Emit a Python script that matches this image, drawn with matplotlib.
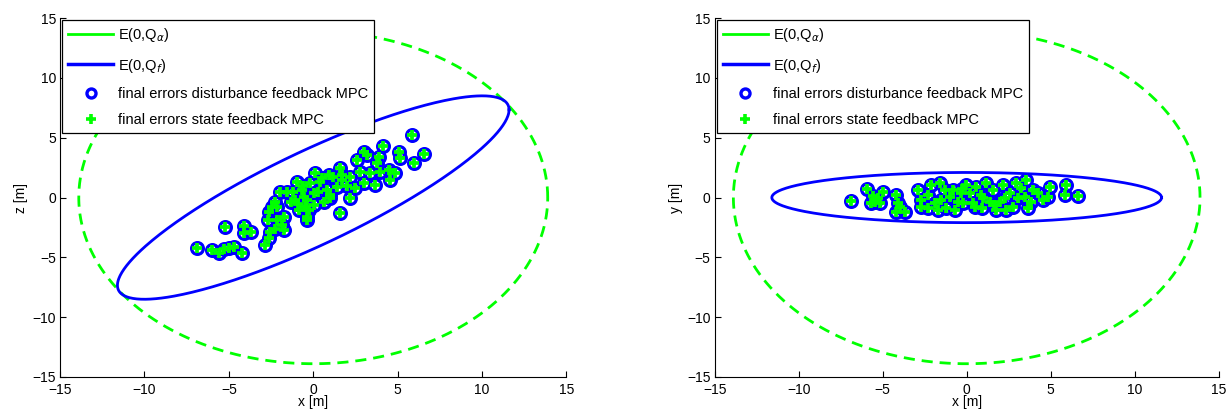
import numpy as np
import matplotlib
matplotlib.use("Agg")
import matplotlib.pyplot as plt
from matplotlib.lines import Line2D

plt.rcParams['font.family'] = ['Liberation Sans', 'DejaVu Sans']
plt.rcParams['font.size'] = 10
plt.rcParams['axes.unicode_minus'] = True

# final errors, x-z plane (left panel)
xz_x = [-6.9, -6.0, -5.6, -5.3, -5.0, -4.7, -4.2, -5.2, -4.1, -3.7, -4.1,
        -2.85, -2.65, -2.55, -2.7, -2.6, -2.45, -2.25, -2.15, -2.15, -2.25, -1.76, -1.72, -1.86,
        -1.96, -1.56, -0.97, -1.07, -1.17, -0.67, -0.47, -0.37, -0.87, -0.57,
        5.85, 6.58, 5.95, 5.06, 5.12, 4.13, 3.02, 3.18, 2.59, 3.87, 3.77,
        1.6, 0.91, 0.12, 0.52, 3.68, 4.47, 4.86, 4.57, 3.97, 3.38, 2.79, 2.19,
        1.7, 1.2, 1.4, 0.81, 0.42, -0.18, 2.15, 1.6, 0.02, -0.37, 0.61, -0.28,
        -0.37, 0.02, 1.0, 2.5, 3.0, 2.0, 1.0, -0.6, -1.3, 0.3, 1.7, -0.9]
xz_z = [-4.2, -4.4, -4.6, -4.3, -4.2, -4.1, -4.6, -2.5, -2.4, -2.9, -3.0,
        -4.0, -3.4, -2.9, -1.9, -1.2, -0.8, -0.35, -0.8, -1.9, -2.6, -1.6, -2.7, -2.3,
        0.48, 0.48, 1.32, -0.21, 0.48, 0.63, -0.77, -1.6, -1.05, 0.07,
        5.22, 3.63, 2.86, 3.83, 3.27, 4.3, 3.83, 3.55, 3.13, 3.41, 2.86,
        2.44, 1.88, 2.02, 1.6, 1.04, 2.3, 2.02, 1.46, 2.16, 2.02, 2.16, 1.74,
        1.46, 1.74, 0.9, 0.63, 1.32, 1.18, -0.07, -1.3, 0.35, -0.21, -0.35, -1.05,
        -1.88, -0.63, 0.21, 0.8, 1.2, 1.0, 0.0, 1.0, -0.4, 0.5, 1.9, -0.5]

# final errors, x-y plane (right panel)
xy_x = [-6.86, -5.93, -5.58, -5.67, -5.28, -4.98, -5.18, -5.48,
        -4.19, -4.09, -4.19, -3.69, -3.99,
        -2.9, -2.7, -2.3, -2.1, -1.91, -1.61, -1.31, -1.51, -1.01, -1.71, -1.21, -2.7, -2.3,
        -0.82, -0.52, -0.72, -0.32,
        6.62, 5.93, 5.83, 4.94, 4.84, 4.54, 4.24, 3.95, 3.85, 3.65,
        3.55, 3.26, 3.06, 2.76, 2.56, 2.16, 1.96, 1.77, 2.36, 1.56, 1.37, 1.17,
        0.87, 0.58, 0.38, 0.18, -0.02, -0.22, 2.96, 3.45,
        0.5, 1.0, -0.3, 0.9, 2.3, 1.6]
xy_y = [-0.27, 0.71, 0.12, -0.49, -0.07, 0.48, -0.49, -0.35,
        0.21, -0.49, -1.19, -1.19, -0.77,
        0.63, -0.21, 0.21, 1.04, -0.49, 1.18, 0.63, -0.21, 0.07, -1.05, -0.91, -0.77, -0.91,
        0.63, -0.35, -1.05, 0.35,
        0.12, 1.04, 0.21, 0.9, 0.07, -0.21, 0.35, 0.63, -0.35, -0.91,
        1.46, 0.77, -0.07, -0.77, 0.35, 1.04, -0.35, -1.05, -1.05, 0.63, -0.35, 1.18,
        0.21, 0.9, -0.49, 0.35, 1.04, -0.49, 1.18, 0.07,
        -0.8, 0.0, 0.7, -0.9, 0.0, -0.6]

# ellipse shape matrices (ellipse = {v : v' inv(Q) v <= 1})
Q_alpha = np.array([[193.0, 0.0], [0.0, 193.0]])
Q_f_xz = np.array([[134.6, 85.1], [85.1, 72.3]])
Q_f_xy = np.array([[134.6, 0.0], [0.0, 4.4]])

blue = (0, 0, 1)
green = (0, 1, 0)


def ellipse(Q, n=400):
    t = np.linspace(0, 2 * np.pi, n)
    L = np.linalg.cholesky(Q)
    pts = L @ np.vstack([np.cos(t), np.sin(t)])
    return pts[0], pts[1]


fig = plt.figure(figsize=(12.26, 4.12), dpi=100)
ax1 = fig.add_axes([0.049, 0.085, 0.413, 0.871])
ax2 = fig.add_axes([0.583, 0.085, 0.411, 0.871])

panels = [(ax1, Q_f_xz, xz_x, xz_z, 'z [m]'), (ax2, Q_f_xy, xy_x, xy_y, 'y [m]')]
for ax, Qf, px, py, ylab in panels:
    ex, ey = ellipse(Q_alpha)
    ax.plot(ex, ey, color=green, lw=2, dashes=(4, 2.5))
    ex, ey = ellipse(Qf)
    ax.plot(ex, ey, color=blue, lw=2)
    ax.plot(px, py, 'o', ms=8.5, mew=2.3, mfc='none', mec=blue, ls='none')
    ax.plot(px, py, '+', ms=7.5, mew=2.7, color=green, ls='none')

    ax.set_xlim(-15, 15)
    ax.set_ylim(-15, 15)
    ax.set_xticks(np.arange(-15, 16, 5))
    ax.set_yticks(np.arange(-15, 16, 5))
    ax.tick_params(direction='in', length=4, width=0.8, labelsize=10, pad=3)
    ax.tick_params(axis='x', pad=4)
    ax.spines['top'].set_visible(False)
    ax.spines['right'].set_visible(False)
    ax.set_xlabel('x [m]', labelpad=-1)
    ax.set_ylabel(ylab, labelpad=3)

    handles = [
        Line2D([], [], color=green, lw=2),
        Line2D([], [], color=blue, lw=2.5),
        Line2D([], [], marker='o', ms=6.5, mew=2.4, mfc='none', mec=blue, ls='none'),
        Line2D([], [], marker='+', ms=6.5, mew=2.6, color=green, ls='none'),
    ]
    labels = [r'E(0,Q$_\alpha$)', r'E(0,Q$_f$)',
              'final errors disturbance feedback MPC',
              'final errors state feedback MPC']
    leg = ax.legend(handles, labels, loc='upper left', bbox_to_anchor=(0.0, 1.0),
                    fontsize=10.5, handlelength=3.1, handletextpad=0.35,
                    borderaxespad=0.15, borderpad=0.4, labelspacing=0.85,
                    fancybox=False, framealpha=1, edgecolor='black')
    leg.get_frame().set_linewidth(0.9)

fig.savefig('out.png', dpi=100)
